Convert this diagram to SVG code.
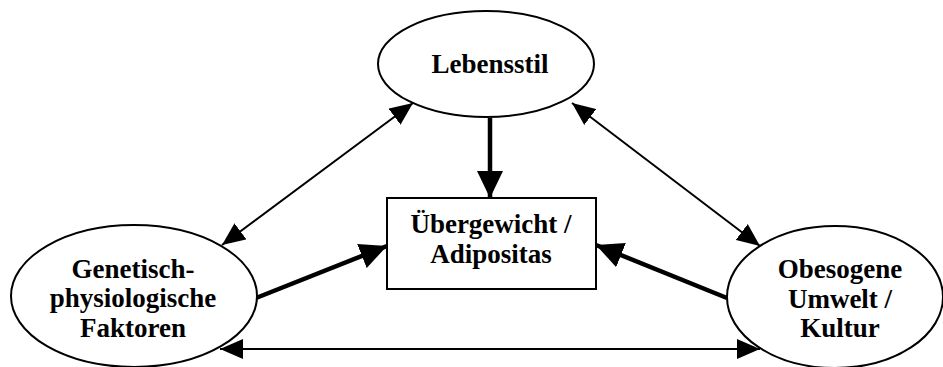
<svg xmlns="http://www.w3.org/2000/svg" width="943" height="367" viewBox="0 0 943 367">
<defs>
<style>
.n{fill:#fff;stroke:#000;stroke-width:2}
.t{font-family:"Liberation Serif","Times New Roman",serif;font-weight:bold;font-size:27px;fill:#000;text-anchor:middle}
.thin{stroke:#000;stroke-width:2;fill:none}
.thick{stroke:#000;stroke-width:4.5;fill:none}
</style>
<marker id="ah" markerUnits="userSpaceOnUse" markerWidth="24" markerHeight="20" refX="23" refY="10" orient="auto-start-reverse" viewBox="0 0 24 20">
<path d="M0,0 L23,10 L0,20 z" fill="#000"/>
</marker>
<marker id="ahb" markerUnits="userSpaceOnUse" markerWidth="28" markerHeight="26" refX="27" refY="13" orient="auto" viewBox="0 0 28 26">
<path d="M0,0 L27,13 L0,26 z" fill="#000"/>
</marker>
</defs>
<rect width="943" height="367" fill="#fff"/>
<g id="connectors">
<line class="thin" x1="222" y1="245" x2="413" y2="103" marker-start="url(#ah)" marker-end="url(#ah)"/>
<line class="thin" x1="572" y1="103" x2="760" y2="246" marker-start="url(#ah)" marker-end="url(#ah)"/>
<line class="thin" x1="220" y1="349" x2="760" y2="349" marker-start="url(#ah)" marker-end="url(#ah)"/>
<line class="thick" x1="490" y1="118" x2="490" y2="198" marker-end="url(#ahb)"/>
<line class="thick" x1="256" y1="298" x2="387" y2="246" marker-end="url(#ahb)"/>
<line class="thick" x1="727" y1="298" x2="596" y2="245" marker-end="url(#ahb)"/>
</g>
<g id="lebensstil">
<ellipse class="n" cx="486" cy="64" rx="108" ry="53"/>
<text class="t" x="490" y="73">Lebensstil</text>
</g>
<g id="adipositas">
<rect class="n" x="387" y="198" width="209" height="91"/>
<text class="t" x="491" y="233">Übergewicht /</text>
<text class="t" x="491" y="263">Adipositas</text>
</g>
<g id="genetisch">
<ellipse class="n" cx="134" cy="296" rx="123" ry="71"/>
<text class="t" x="133" y="278">Genetisch-</text>
<text class="t" x="133" y="307">physiologische</text>
<text class="t" x="133" y="337">Faktoren</text>
</g>
<g id="umwelt">
<ellipse class="n" cx="835" cy="297" rx="108" ry="71"/>
<text class="t" x="840" y="278">Obesogene</text>
<text class="t" x="840" y="308">Umwelt /</text>
<text class="t" x="840" y="337">Kultur</text>
</g>
</svg>
